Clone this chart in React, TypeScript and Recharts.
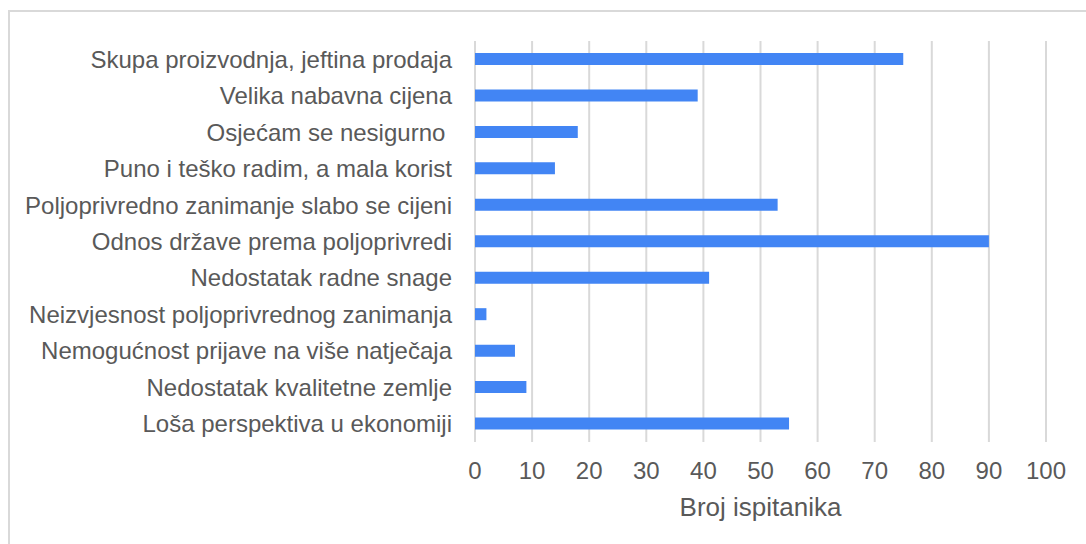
import { BarChart, Bar, XAxis, YAxis, CartesianGrid } from "recharts";

const categories = [
  "Skupa proizvodnja, jeftina prodaja",
  "Velika nabavna cijena",
  "Osjećam se nesigurno\u00a0",
  "Puno i teško radim, a mala korist",
  "Poljoprivredno zanimanje slabo se cijeni",
  "Odnos države prema poljoprivredi",
  "Nedostatak radne snage",
  "Neizvjesnost poljoprivrednog zanimanja",
  "Nemogućnost prijave na više natječaja",
  "Nedostatak kvalitetne zemlje",
  "Loša perspektiva u ekonomiji",
];

const counts = [75, 39, 18, 14, 53, 90, 41, 2, 7, 9, 55];

const xTicks = [0, 10, 20, 30, 40, 50, 60, 70, 80, 90, 100];

const data = categories.map((name, i) => ({ name, value: counts[i] }));

const TEXT = "#595959";
const FONT = "'Liberation Sans', Arial, sans-serif";

export default function App() {
  return (
    <div
      style={{
        position: "relative",
        width: 1086,
        height: 544,
        overflow: "hidden",
        background: "#fff",
        fontFamily: FONT,
      }}
    >
      <style>{`body{margin:0;overflow:hidden}`}</style>
      <div
        style={{
          position: "absolute",
          left: 8,
          top: 10,
          width: 1100,
          height: 560,
          border: "2px solid #d9d9d9",
        }}
      />
      <div style={{ position: "absolute", left: 0, top: 0 }}>
        <BarChart
          width={1086}
          height={544}
          data={data}
          layout="vertical"
          margin={{ top: 41, right: 40, left: 0, bottom: 22 }}
          barCategoryGap={0}
        >
          <CartesianGrid
            horizontal={false}
            stroke="#d9d9d9"
            strokeWidth={2}
          />
          <XAxis
            type="number"
            domain={[0, 100]}
            ticks={xTicks}
            interval={0}
            axisLine={false}
            tickLine={false}
            tickSize={0}
            tickMargin={20}
            height={80}
            tick={{ fill: TEXT, fontSize: 24, fontFamily: FONT }}
            label={{
              value: "Broj ispitanika",
              position: "insideBottom",
              offset: 6,
              fill: TEXT,
              fontSize: 26,
              fontFamily: FONT,
            }}
          />
          <YAxis
            type="category"
            dataKey="name"
            width={475}
            axisLine={false}
            tickLine={false}
            tickSize={0}
            tickMargin={23}
            interval={0}
            tick={{ fill: TEXT, fontSize: 24, fontFamily: FONT }}
          />
          <Bar
            dataKey="value"
            fill="#4285f4"
            barSize={12}
            isAnimationActive={false}
          />
        </BarChart>
      </div>
    </div>
  );
}
